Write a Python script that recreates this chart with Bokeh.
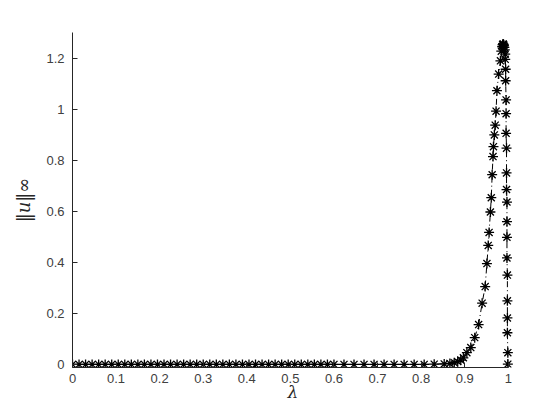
from bokeh.plotting import figure
from bokeh.models import Range1d, FixedTicker
from bokeh.embed import file_html
from bokeh.resources import INLINE

# lower branch (near zero), rising branch, peak, descending branch at lambda ~ 1
lam = [0.0, 0.015, 0.03, 0.045, 0.06, 0.075, 0.09, 0.105, 0.12, 0.135, 0.15,
       0.165, 0.18, 0.195, 0.21, 0.225, 0.24, 0.255, 0.27, 0.285, 0.30,
       0.315, 0.33, 0.345, 0.36, 0.375, 0.39, 0.405, 0.42, 0.435, 0.45,
       0.465, 0.48, 0.495, 0.51, 0.525, 0.54, 0.555, 0.57, 0.585, 0.60,
       0.623, 0.646, 0.669, 0.692, 0.715, 0.738, 0.761, 0.784, 0.807, 0.83,
       0.853, 0.866, 0.876, 0.884, 0.891, 0.897,
       0.905, 0.914, 0.923, 0.932, 0.940, 0.947, 0.951, 0.954, 0.956, 0.959,
       0.961, 0.963, 0.965, 0.966, 0.968, 0.970, 0.972, 0.974, 0.978, 0.982,
       0.984, 0.986, 0.987, 0.988, 0.989, 0.990, 0.991, 0.992,
       0.993, 0.993, 0.994, 0.994, 0.995, 0.995, 0.995, 0.996, 0.996, 0.996,
       0.997, 0.997, 0.997, 0.997, 0.998, 0.998, 0.998, 0.998, 0.999, 0.999]
unorm = [0.0, 0.0, 0.0, 0.0, 0.0, 0.0, 0.0, 0.0, 0.0, 0.0, 0.0,
         0.0, 0.0, 0.0, 0.0, 0.0, 0.0, 0.0, 0.0, 0.0, 0.0,
         0.0, 0.0, 0.0, 0.0, 0.0, 0.0, 0.0, 0.0, 0.0, 0.0,
         0.0, 0.0, 0.0, 0.0, 0.0, 0.0, 0.0, 0.0, 0.0, 0.0,
         0.0, 0.0, 0.0, 0.0, 0.0, 0.0, 0.0, 0.0, 0.0, 0.001,
         0.002, 0.004, 0.007, 0.011, 0.017, 0.026,
         0.046, 0.066, 0.105, 0.156, 0.240, 0.305, 0.395, 0.466, 0.517, 0.597,
         0.653, 0.743, 0.814, 0.853, 0.899, 0.937, 0.992, 1.072, 1.137, 1.189,
         1.227, 1.245, 1.252, 1.255, 1.254, 1.250, 1.242, 1.232,
         1.215, 1.195, 1.156, 1.111, 1.036, 0.982, 0.905, 0.847, 0.750, 0.685,
         0.636, 0.559, 0.498, 0.417, 0.350, 0.249, 0.182, 0.124, 0.046, 0.001]

x_ticks = [0, 0.1, 0.2, 0.3, 0.4, 0.5, 0.6, 0.7, 0.8, 0.9, 1]
x_labels = ["0", "0.1", "0.2", "0.3", "0.4", "0.5", "0.6", "0.7", "0.8", "0.9", "1"]
y_ticks = [0, 0.2, 0.4, 0.6, 0.8, 1.0, 1.2]
y_labels = ["0", "0.2", "0.4", "0.6", "0.8", "1", "1.2"]

p = figure(width=544, height=404, output_backend="svg", toolbar_location=None,
           x_range=Range1d(0, 1.012), y_range=Range1d(-0.012, 1.3),
           min_border_left=72, min_border_right=31, min_border_top=32,
           min_border_bottom=34)
p.outline_line_color = None
p.xgrid.grid_line_color = None
p.ygrid.grid_line_color = None
p.background_fill_color = "white"
p.border_fill_color = "white"

p.line(lam, unorm, line_color="black", line_width=1, line_dash="6 3 1 3")
p.scatter(lam, unorm, marker="asterisk", size=10, line_color="black", line_width=1.3)

for ax, ticks, labels in ((p.xaxis[0], x_ticks, x_labels), (p.yaxis[0], y_ticks, y_labels)):
    ax.ticker = FixedTicker(ticks=ticks)
    ax.major_label_overrides = {t: l for t, l in zip(ticks, labels)}
    ax.minor_tick_line_color = None
    ax.major_tick_in = 5
    ax.major_tick_out = 0
    ax.axis_line_color = "#262626"
    ax.major_tick_line_color = "#262626"
    ax.major_label_text_color = "#404040"
    ax.major_label_text_font = "Liberation Sans"
    ax.major_label_text_font_size = "13px"
    ax.axis_label_text_font = "DejaVu Serif"
    ax.axis_label_text_font_style = "italic"
    ax.axis_label_text_font_size = "17px"
    ax.axis_label_text_color = "#262626"

p.yaxis[0].axis_label_text_font_size = "18px"
p.xaxis[0].bounds = (0, 1)
p.xaxis.axis_label = "λ"
p.yaxis.axis_label = "‖u‖∞"
p.xaxis.major_label_standoff = 6
p.yaxis.major_label_standoff = 8
p.xaxis.axis_label_standoff = -4
p.yaxis.axis_label_standoff = 9

open("out.html", "w").write(file_html(p, INLINE))
